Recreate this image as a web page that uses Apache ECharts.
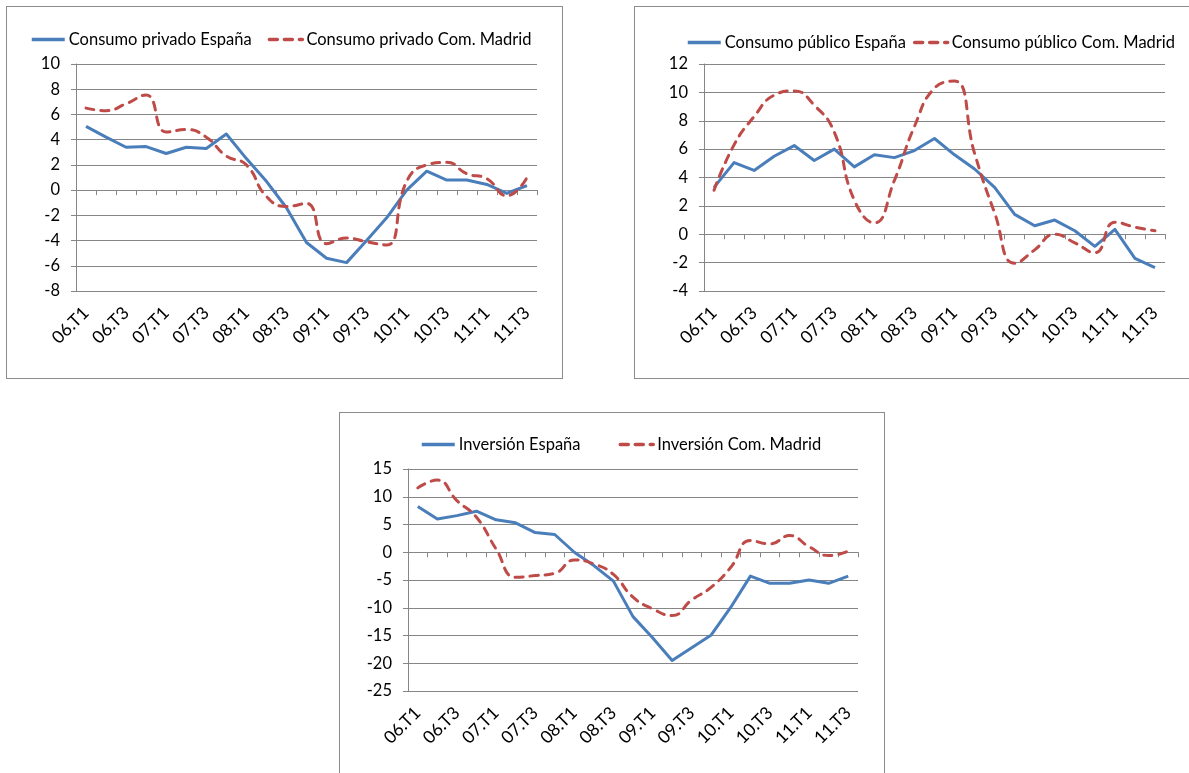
<!DOCTYPE html>
<html>
<head>
<meta charset="utf-8">
<title>Consumo e inversión</title>
<script src="https://cdn.jsdelivr.net/npm/echarts@6/dist/echarts.min.js"></script>
<style>
  html, body { margin: 0; padding: 0; background: #fff; }
  body { width: 1189px; height: 773px; position: relative; overflow: hidden; }
  .panel { position: absolute; border: 1px solid #8c8c8c; background: #fff; }
  .panel .chart { width: 100%; height: 100%; }
  #p1 { left: 6px; top: 6px; width: 555px; height: 371px; }
  #p2 { left: 634px; top: 6px; width: 560px; height: 371px; }
  #p3 { left: 339px; top: 412px; width: 544px; height: 370px; }
</style>
</head>
<body>
<div class="panel" id="p1"><div class="chart" id="c1"></div></div>
<div class="panel" id="p2"><div class="chart" id="c2"></div></div>
<div class="panel" id="p3"><div class="chart" id="c3"></div></div>
<script>
// trimestres 2006 T1 - 2011 T3
const quarters = ['06.T1', '06.T2', '06.T3', '06.T4', '07.T1', '07.T2', '07.T3', '07.T4',
  '08.T1', '08.T2', '08.T3', '08.T4', '09.T1', '09.T2', '09.T3', '09.T4',
  '10.T1', '10.T2', '10.T3', '10.T4', '11.T1', '11.T2', '11.T3']

// consumo privado
const privadoEspana = [5.05, 4.2, 3.4, 3.45, 2.9, 3.4, 3.3, 4.45, 2.5, 0.7, -1.4, -4.15,
  -5.4, -5.75, -4.0, -2.2, 0.0, 1.5, 0.8, 0.8, 0.45, -0.25, 0.35]
const privadoMadrid = [6.5, 6.3, 6.85, 7.55, 4.6, 4.8, 4.2, 2.7, 2.0, -0.5, -1.3, -1.05,
  -4.25, -3.8, -4.1, -4.35, 0.7, 2.0, 2.2, 1.3, 0.9, -0.45, 1.0]

// consumo publico
const publicoEspana = [3.3, 5.05, 4.5, 5.5, 6.25, 5.2, 6.0, 4.75, 5.6, 5.4, 5.9, 6.75,
  5.6, 4.6, 3.3, 1.4, 0.6, 1.0, 0.25, -0.85, 0.35, -1.7, -2.35]
const publicoMadrid = [3.1, 6.3, 8.3, 9.8, 10.1, 9.1, 7.2, 2.4, 0.8, 3.8, 7.6, 10.3,
  10.8, 5.7, 1.5, -2.05, -1.1, 0.0, -0.6, -1.3, 0.85, 0.5, 0.25]

// inversion
const inversionEspana = [8.25, 6.0, 6.6, 7.4, 5.85, 5.3, 3.55, 3.2, 0.0, -2.4, -5.2, -11.6,
  -15.4, -19.5, -17.2, -14.9, -9.9, -4.3, -5.6, -5.6, -5.0, -5.6, -4.3]
const inversionMadrid = [11.6, 13.0, 9.3, 6.3, 0.6, -4.5, -4.2, -3.8, -1.4, -2.1, -4.0, -8.1,
  -10.2, -11.4, -8.6, -6.3, -2.7, 2.1, 1.5, 3.0, 1.0, -0.6, 0.2]

const FONT = 'Lato, "Open Sans", sans-serif'
const GRAY = '#868686'
const BLUE = '#4a7ebb'
const RED = '#be4b48'

function buildOption(cfg) {
  return {
    animation: false,
    textStyle: { fontFamily: FONT },
    legend: {
      left: cfg.legendLeft,
      top: cfg.legendTop,
      padding: 0,
      itemWidth: 33,
      itemHeight: 14,
      itemGap: cfg.legendGap,
      itemStyle: { opacity: 0 },
      lineStyle: { width: 3.5 },
      textStyle: { fontSize: 16.5, color: '#000', fontFamily: FONT, padding: [0, 0, 0, -1] },
      data: [cfg.names[0], cfg.names[1]]
    },
    grid: cfg.grid,
    xAxis: [
      {
        type: 'category',
        data: quarters,
        boundaryGap: true,
        axisLine: { show: true, onZero: true, lineStyle: { color: GRAY, width: 1 } },
        axisTick: { show: true, interval: 0, length: 5, lineStyle: { color: GRAY } },
        axisLabel: { show: false },
        splitLine: { show: false }
      },
      {
        type: 'category',
        data: quarters,
        position: 'bottom',
        boundaryGap: true,
        axisLine: { show: false, onZero: false },
        axisTick: { show: false },
        axisLabel: {
          interval: 1,
          rotate: 45,
          margin: 19,
          fontSize: 17.5,
          color: '#000',
          fontFamily: FONT
        }
      }
    ],
    yAxis: {
      type: 'value',
      min: cfg.min,
      max: cfg.max,
      interval: cfg.step,
      axisLine: { show: true, lineStyle: { color: GRAY } },
      axisTick: { show: true, length: 5, lineStyle: { color: GRAY } },
      axisLabel: { margin: 16, fontSize: 16.5, color: '#000', fontFamily: FONT },
      splitLine: { lineStyle: { color: GRAY, width: 1 } }
    },
    series: [
      {
        name: cfg.names[0],
        type: 'line',
        xAxisIndex: 0,
        data: cfg.espana,
        symbol: 'none',
        lineStyle: { color: BLUE, width: 3, join: 'round' },
        itemStyle: { color: BLUE }
      },
      {
        name: cfg.names[1],
        type: 'line',
        xAxisIndex: 0,
        data: cfg.madrid,
        symbol: 'none',
        smooth: true,
        lineStyle: { color: RED, width: 3, type: [8, 7], cap: 'round' },
        itemStyle: { color: RED }
      }
    ]
  }
}

const chart1 = echarts.init(document.getElementById('c1'))
chart1.setOption(buildOption({
  names: ['Consumo privado España', 'Consumo privado Com. Madrid'],
  espana: privadoEspana,
  madrid: privadoMadrid,
  min: -8, max: 10, step: 2,
  grid: { left: 69, top: 57, width: 461, height: 227 },
  legendLeft: 23, legendTop: 24, legendGap: 16
}))

const chart2 = echarts.init(document.getElementById('c2'))
chart2.setOption(buildOption({
  names: ['Consumo público España', 'Consumo público Com. Madrid'],
  espana: publicoEspana,
  madrid: publicoMadrid,
  min: -4, max: 12, step: 2,
  grid: { left: 69, top: 57, width: 461, height: 227 },
  legendLeft: 51, legendTop: 27, legendGap: 7
}))

const chart3 = echarts.init(document.getElementById('c3'))
chart3.setOption(buildOption({
  names: ['Inversión España', 'Inversión Com. Madrid'],
  espana: inversionEspana,
  madrid: inversionMadrid,
  min: -25, max: 15, step: 5,
  grid: { left: 68, top: 56, width: 450, height: 222 },
  legendLeft: 80, legendTop: 23, legendGap: 38
}))
</script>
</body>
</html>
